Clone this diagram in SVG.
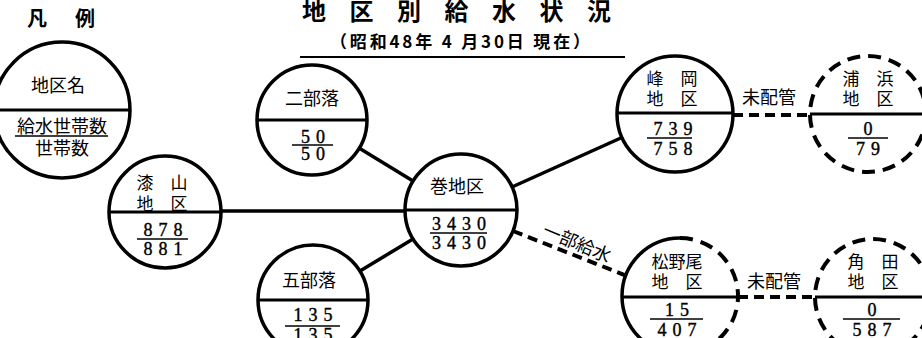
<svg xmlns="http://www.w3.org/2000/svg" width="922" height="338" viewBox="0 0 922 338">
<style>
.bg{fill:#fff}
.c{fill:none;stroke:#000;stroke-width:3.5}
.cd{fill:none;stroke:#000;stroke-width:4;stroke-dasharray:13 8}
.dv{stroke:#000;stroke-width:3}
.fl{stroke:#000;stroke-width:1.6}
.ln{stroke:#000;stroke-width:3.5;fill:none}
.ld{stroke:#000;stroke-width:4;fill:none;stroke-dasharray:10 6}
.j{font-family:"Noto Sans CJK JP","Noto Sans CJK SC",sans-serif;font-size:17px;fill:#000;text-anchor:middle}
.jl{font-size:18px}
.n{font-family:"Liberation Serif","DejaVu Serif",serif;font-size:18px;fill:#000;stroke:#000;stroke-width:0.4;text-anchor:middle;letter-spacing:6px}
.t{font-family:"Noto Sans CJK JP",sans-serif;font-weight:700;fill:#000}
</style>
<rect class="bg" x="0" y="0" width="922" height="338"/>
<g id="title">
<text class="t" x="302" y="20" font-size="24" letter-spacing="23.5">地区別給水状況</text>
<text class="t" x="330" y="48" font-size="17" textLength="260" lengthAdjust="spacing">（昭和48年 4 月30日 現在）</text>
<line x1="300" y1="57" x2="625" y2="57" stroke="#000" stroke-width="2"/>
</g>
<g id="legend">
<text class="t" x="27" y="26" font-size="20" letter-spacing="4">凡　例</text>
<circle class="c" cx="62" cy="110" r="68"/>
<line class="dv" x1="-6" y1="110" x2="130" y2="110"/>
<text class="j jl" x="58" y="92">地区名</text>
<text class="j jl" x="62" y="133">給水世帯数</text>
<line class="fl" x1="15" y1="136" x2="108" y2="136"/>
<text class="j jl" x="62" y="155">世帯数</text>
</g>
<g id="connectors">
<line class="ln" x1="220" y1="211" x2="405" y2="211"/>
<line class="ln" x1="359" y1="148" x2="413" y2="181"/>
<line class="ln" x1="360" y1="271" x2="413" y2="239"/>
<line class="ln" x1="512" y1="187" x2="623" y2="137"/>
<line class="ld" x1="513" y1="231" x2="627" y2="276"/>
<text class="j jl" x="0" y="6.5" transform="translate(577,243) rotate(23)">一部給水</text>
<line class="ld" x1="733" y1="115" x2="810" y2="115"/>
<text class="j jl" x="769" y="104">未配管</text>
<line class="ld" x1="738" y1="297" x2="815" y2="297"/>
<text class="j jl" x="774" y="288">未配管</text>
</g>
<g id="urushiyama">
<circle class="c" cx="165" cy="212" r="56"/>
<line class="dv" x1="109" y1="212" x2="221" y2="212"/>
<text class="j" x="162" y="188.5">漆　山</text>
<text class="j" x="162" y="209.5">地　区</text>
<text class="n" x="166" y="236">878</text>
<line class="fl" x1="137" y1="239" x2="188" y2="239"/>
<text class="n" x="166" y="255">881</text>
</g>
<g id="nibuoraku">
<circle class="c" cx="312" cy="120" r="55"/>
<line class="dv" x1="257" y1="120" x2="367" y2="120"/>
<text class="j jl" x="312" y="104.5">二部落</text>
<text class="n" x="316" y="142.5">50</text>
<line class="fl" x1="292" y1="145" x2="333" y2="145"/>
<text class="n" x="316" y="160">50</text>
</g>
<g id="gobuoraku">
<circle class="c" cx="313" cy="300" r="55"/>
<line class="dv" x1="258" y1="300" x2="368" y2="300"/>
<text class="j jl" x="309" y="287">五部落</text>
<text class="n" x="316" y="321">135</text>
<line class="fl" x1="285" y1="326" x2="340" y2="326"/>
<text class="n" x="316" y="341">135</text>
</g>
<g id="maki">
<circle class="c" cx="461" cy="210" r="56"/>
<line class="dv" x1="405" y1="210" x2="517" y2="210"/>
<text class="j jl" x="457" y="193">巻地区</text>
<text class="n" x="462" y="229.5">3430</text>
<line class="fl" x1="430" y1="233" x2="487" y2="233"/>
<text class="n" x="462" y="249">3430</text>
</g>
<g id="mineoka">
<circle class="c" cx="675" cy="114" r="58"/>
<line class="dv" x1="617" y1="113" x2="733" y2="113"/>
<text class="j" x="672" y="84.5">峰　岡</text>
<text class="j" x="672" y="104.5">地　区</text>
<text class="n" x="676" y="135">739</text>
<line class="fl" x1="647" y1="138" x2="692" y2="138"/>
<text class="n" x="676" y="155">758</text>
</g>
<g id="urahama">
<circle class="cd" cx="868" cy="114" r="58"/>
<line class="dv" x1="810" y1="114" x2="922" y2="114"/>
<text class="j" x="868" y="84.5">浦　浜</text>
<text class="j" x="868" y="104.5">地　区</text>
<text class="n" x="871" y="135">0</text>
<line class="fl" x1="848" y1="138" x2="888" y2="138"/>
<text class="n" x="871" y="155">79</text>
</g>
<g id="matsunoo">
<path class="c" d="M680,238 A58,58 0 0 0 680,354"/>
<path class="cd" d="M680,238 A58,58 0 0 1 680,354"/>
<line class="dv" x1="622" y1="297" x2="738" y2="297"/>
<text class="j" x="677" y="268">松野尾</text>
<text class="j" x="677" y="288">地　区</text>
<text class="n" x="680" y="316">15</text>
<line class="fl" x1="650" y1="319" x2="703" y2="319"/>
<text class="n" x="680" y="336">407</text>
</g>
<g id="tsunoda">
<circle class="cd" cx="873" cy="297" r="58"/>
<line class="dv" x1="815" y1="297" x2="922" y2="297"/>
<text class="j" x="873" y="268">角　田</text>
<text class="j" x="873" y="288">地　区</text>
<text class="n" x="875" y="316">0</text>
<line class="fl" x1="843" y1="319" x2="900" y2="319"/>
<text class="n" x="875" y="336">587</text>
</g>
</svg>
